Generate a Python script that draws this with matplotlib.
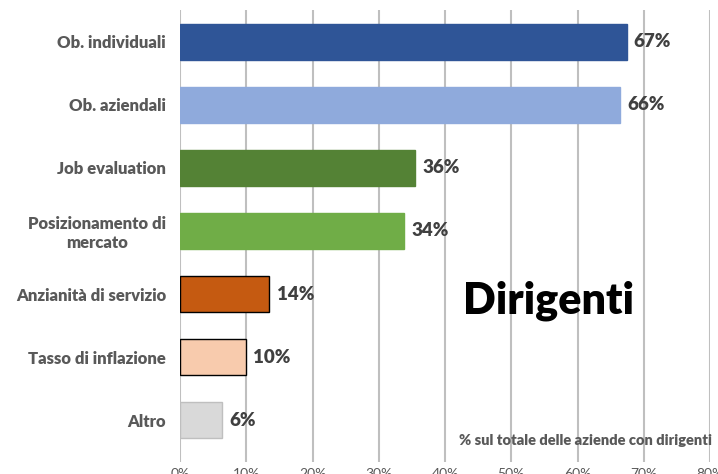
import matplotlib.pyplot as plt

categorie = ["Ob. individuali", "Ob. aziendali", "Job evaluation",
             "Posizionamento di\nmercato", "Anzianità di servizio",
             "Tasso di inflazione", "Altro"]
valori = [67.4, 66.4, 35.5, 33.8, 13.5, 9.9, 6.3]
etichette = ["67%", "66%", "36%", "34%", "14%", "10%", "6%"]
colori = ["#2F5597", "#8FAADC", "#548235", "#70AD47", "#C55A11", "#F8CBAD", "#D9D9D9"]
bordi = ["#2F5597", "#8FAADC", "#548235", "#70AD47", "#000000", "#000000", "#BFBFBF"]
tick_x = [0, 10, 20, 30, 40, 50, 60, 70, 80]

plt.rcParams['font.family'] = ['Lato', 'DejaVu Sans']

fig = plt.figure(figsize=(7.18, 4.74), dpi=100)
ax = fig.add_axes([0.2507, 0.0253, 0.7382, 0.9536])

y = list(range(len(categorie)))
ax.barh(y, valori, height=0.57, color=colori, edgecolor=bordi, linewidth=1.0, zorder=3)

for yi, v, lab in zip(y, valori, etichette):
    ax.text(v + 1.1, yi, lab, va='center', ha='left', fontsize=13.5,
            fontweight='heavy', color='#404040', zorder=4)

ax.set_xlim(0, 80)
ax.set_ylim(6.66, -0.5)
ax.set_xticks(tick_x)
ax.set_xticklabels([f"{t}%" for t in tick_x], color='#595959', fontsize=10)
ax.set_yticks(y)
ax.set_yticklabels(categorie, fontsize=12, fontweight='heavy', color='#595959',
                   multialignment='center')
ax.tick_params(axis='y', length=0, pad=10)
ax.tick_params(axis='x', length=0, pad=4)

ax.grid(axis='x', color='#BFBFBF', linewidth=1.5, zorder=0)
for s in ax.spines.values():
    s.set_visible(False)

ax.text(55.6, 4.1, "Dirigenti", ha='center', va='center', fontsize=31,
        fontweight='heavy', color='black')
ax.text(80.3, 6.32, "% sul totale delle aziende con dirigenti", ha='right', va='center',
        fontsize=10.5, fontweight='heavy', color='#595959', zorder=5)

fig.savefig("out.png", dpi=100)
